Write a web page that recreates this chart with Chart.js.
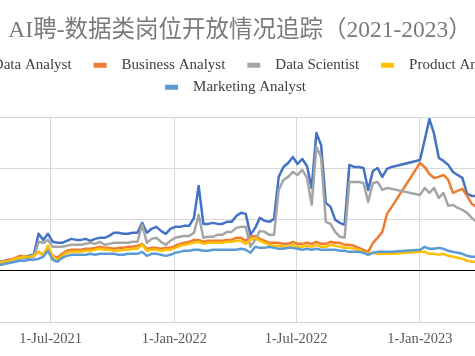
<!DOCTYPE html>
<html><head><meta charset="utf-8">
<script src="https://cdn.jsdelivr.net/npm/chart.js@4/dist/chart.umd.min.js"></script>
<style>
html,body{margin:0;padding:0;background:#fff;overflow:hidden;width:475px;height:356px;}
#wrap{position:absolute;left:-77px;top:0;width:640px;height:356px;}
</style></head><body>
<div id="wrap"><canvas id="c" width="640" height="356"></canvas></div>
<script>
const dates = [
'2021-04-11','2021-04-18','2021-04-25','2021-05-02','2021-05-09','2021-05-16','2021-05-23','2021-05-30','2021-06-06','2021-06-13',
'2021-06-20','2021-06-27','2021-07-04','2021-07-11','2021-07-18','2021-07-25','2021-08-01','2021-08-08','2021-08-15','2021-08-22',
'2021-08-29','2021-09-05','2021-09-12','2021-09-19','2021-09-26','2021-10-03','2021-10-10','2021-10-17','2021-10-24','2021-10-31',
'2021-11-07','2021-11-14','2021-11-21','2021-11-28','2021-12-05','2021-12-12','2021-12-19','2021-12-26','2022-01-02','2022-01-09',
'2022-01-16','2022-01-23','2022-01-30','2022-02-06','2022-02-13','2022-02-20','2022-02-27','2022-03-06','2022-03-13','2022-03-20',
'2022-03-27','2022-04-03','2022-04-10','2022-04-17','2022-04-24','2022-05-01','2022-05-08','2022-05-15','2022-05-22','2022-05-29',
'2022-06-05','2022-06-12','2022-06-19','2022-06-26','2022-07-03','2022-07-10','2022-07-17','2022-07-24','2022-07-31','2022-08-07',
'2022-08-14','2022-08-21','2022-08-28','2022-09-04','2022-09-11','2022-09-18','2022-09-25','2022-10-02','2022-10-09','2022-10-16',
'2022-10-23','2022-10-30','2022-11-06','2022-11-13','2022-11-20','2023-01-01','2023-01-08','2023-01-15','2023-01-22','2023-01-29',
'2023-02-05','2023-02-12','2023-02-19','2023-02-26','2023-03-05','2023-03-12','2023-03-19','2023-03-26','2023-04-02'];

const dataAnalyst = [
88,88,98,107,117,127,137,146,156,361,
302,361,283,273,273,293,312,302,302,312,
293,312,322,322,341,371,371,361,361,371,
371,468,371,410,429,390,361,410,429,429,
439,439,517,829,458,458,468,458,458,478,
478,536,566,556,351,419,517,488,478,507,
917,1014,1053,1112,1043,1092,1024,809,1346,1229,
663,624,497,468,449,1034,1014,1014,1004,790,
975,1004,917,995,1014,1082,1277,1482,1336,1102,
1073,1034,965,936,907,751,731,731,731];

const businessAnalyst = [
88,88,98,107,127,146,137,127,146,185,
156,234,146,127,166,195,205,205,205,215,
215,224,234,224,224,215,224,224,234,234,
244,263,215,224,224,215,224,224,244,263,
273,283,302,302,283,293,293,293,293,302,
302,322,322,293,332,341,312,293,273,273,
273,263,263,283,263,263,273,263,283,263,
263,283,273,273,254,254,244,224,205,185,
273,322,380,556,624,1053,1014,946,907,917,
936,887,761,780,800,731,653,624,614];

const dataScientist = [
88,88,88,98,107,117,127,127,137,283,
273,302,234,234,234,244,254,254,254,263,
273,263,283,254,263,273,273,273,273,283,
283,449,273,312,322,283,254,293,322,332,
341,341,371,546,322,332,332,351,351,380,
380,419,429,429,234,302,390,380,351,351,
790,887,917,965,936,985,907,644,1209,1112,
478,458,380,332,322,868,868,868,858,673,
858,868,790,809,800,741,809,761,809,712,
761,634,644,614,595,566,517,478,468];

const productAnalyst = [
78,78,88,98,117,127,137,137,146,185,
146,244,137,107,146,176,185,185,185,195,
195,205,215,205,205,195,195,205,205,215,
215,254,195,205,205,195,205,205,224,244,
254,263,273,283,263,273,273,273,273,283,
283,293,293,263,302,322,293,273,254,244,
244,234,234,254,234,234,244,234,254,234,
234,254,244,234,224,224,215,205,185,166,
176,166,166,166,166,185,185,166,166,156,
166,146,137,127,117,98,88,88,88];

const marketingAnalyst = [
59,59,68,78,88,98,98,107,107,117,
137,195,107,88,127,146,156,156,156,156,
166,156,166,166,166,166,156,156,166,166,
166,185,146,166,166,156,146,156,176,185,
195,195,205,205,195,195,205,205,205,205,
205,205,215,205,176,234,224,224,234,224,
215,215,224,224,215,205,215,205,215,205,
205,205,205,195,195,185,185,185,176,156,
176,185,185,185,185,205,234,215,215,224,
215,195,185,176,166,146,137,137,137];

const seriesNames = ['Data Analyst','Business Analyst','Data Scientist','Product Analyst','Marketing Analyst'];
const seriesColors = ['#4472C4','#ED7D31','#A5A5A5','#FFC000','#5B9BD5'];
const tickDates = ['2021-07-01','2022-01-01','2022-07-01','2023-01-01'];
const monthNames = ['Jan','Feb','Mar','Apr','May','Jun','Jul','Aug','Sep','Oct','Nov','Dec'];
const titleText = 'AI聘-数据类岗位开放情况追踪（2021-2023）';

const allSeries = [dataAnalyst,businessAnalyst,dataScientist,productAnalyst,marketingAnalyst];
allSeries.forEach((s,i)=>{ if(s.length!==dates.length) throw new Error('length mismatch '+i+' '+s.length+' vs '+dates.length); });

function dayNum(s){const p=s.split('-').map(Number);return Date.UTC(p[0],p[1]-1,p[2])/86400000;}
function fmt(n){const dt=new Date(Math.round(n)*86400000);return dt.getUTCDate()+'-'+monthNames[dt.getUTCMonth()]+'-'+dt.getUTCFullYear();}
const D0 = dayNum('2021-07-01');

const datasets = allSeries.map((s,i)=>({
  label: seriesNames[i],
  data: s.map((v,j)=>({x:dayNum(dates[j]), y:v})),
  borderColor: seriesColors[i],
  backgroundColor: seriesColors[i],
  borderWidth: 2.5,
  pointRadius: 0,
  tension: 0,
  borderJoinStyle: 'round',
  borderCapStyle: 'round',
  order: 5 - i
}));

const legendSpacer = {
  id: 'legendSpacer',
  beforeInit(chart){
    const orig = chart.legend.fit;
    chart.legend.fit = function(){ orig.call(this); this.height += 12.5; };
  }
};

const serif = '"Liberation Serif","Noto Sans CJK SC",serif';

new Chart(document.getElementById('c'), {
  type: 'line',
  data: { datasets },
  plugins: [legendSpacer],
  options: {
    responsive: false,
    animation: false,
    devicePixelRatio: 1,
    layout: { padding: 0 },
    plugins: {
      tooltip: { enabled: false },
      title: {
        display: true,
        text: titleText + ' ',
        color: '#7a7a7a',
        font: { family: serif, size: 23.5, weight: 'normal' },
        padding: { top: 17, bottom: 5.5 }
      },
      legend: {
        display: true,
        position: 'top',
        labels: {
          color: '#404040',
          font: { family: serif, size: 15 },
          boxWidth: 13,
          boxHeight: 5,
          padding: 7,
          generateLabels(chart){
            return chart.data.datasets.map((ds,i)=>({
              text: '  ' + ds.label + '    ',
              fillStyle: ds.borderColor,
              strokeStyle: ds.borderColor,
              lineWidth: 0,
              hidden: false,
              datasetIndex: i,
              fontColor: '#404040'
            }));
          }
        }
      }
    },
    scales: {
      x: {
        type: 'linear',
        min: D0 - 189.8,
        max: D0 + 761.6,
        afterBuildTicks(scale){ scale.ticks = tickDates.map(t=>({value: dayNum(t)})); },
        afterFit(scale){ scale.height = 34; },
        ticks: {
          autoSkip: false, maxRotation: 0, minRotation: 0, padding: 8,
          color: '#595959',
          font: { family: serif, size: 14.5 },
          callback: (v)=>fmt(v)
        },
        grid: { color: '#d9d9d9', drawTicks: false, lineWidth: 1 },
        border: { color: '#d9d9d9' }
      },
      y: {
        min: -500, max: 1500,
        ticks: { stepSize: 500, display: false },
        grid: {
          drawTicks: false, lineWidth: 1,
          color: (ctx)=> (ctx.tick && ctx.tick.value === 0) ? '#000000' : '#d9d9d9'
        },
        border: { display: false }
      }
    }
  }
});
</script>
</body></html>
